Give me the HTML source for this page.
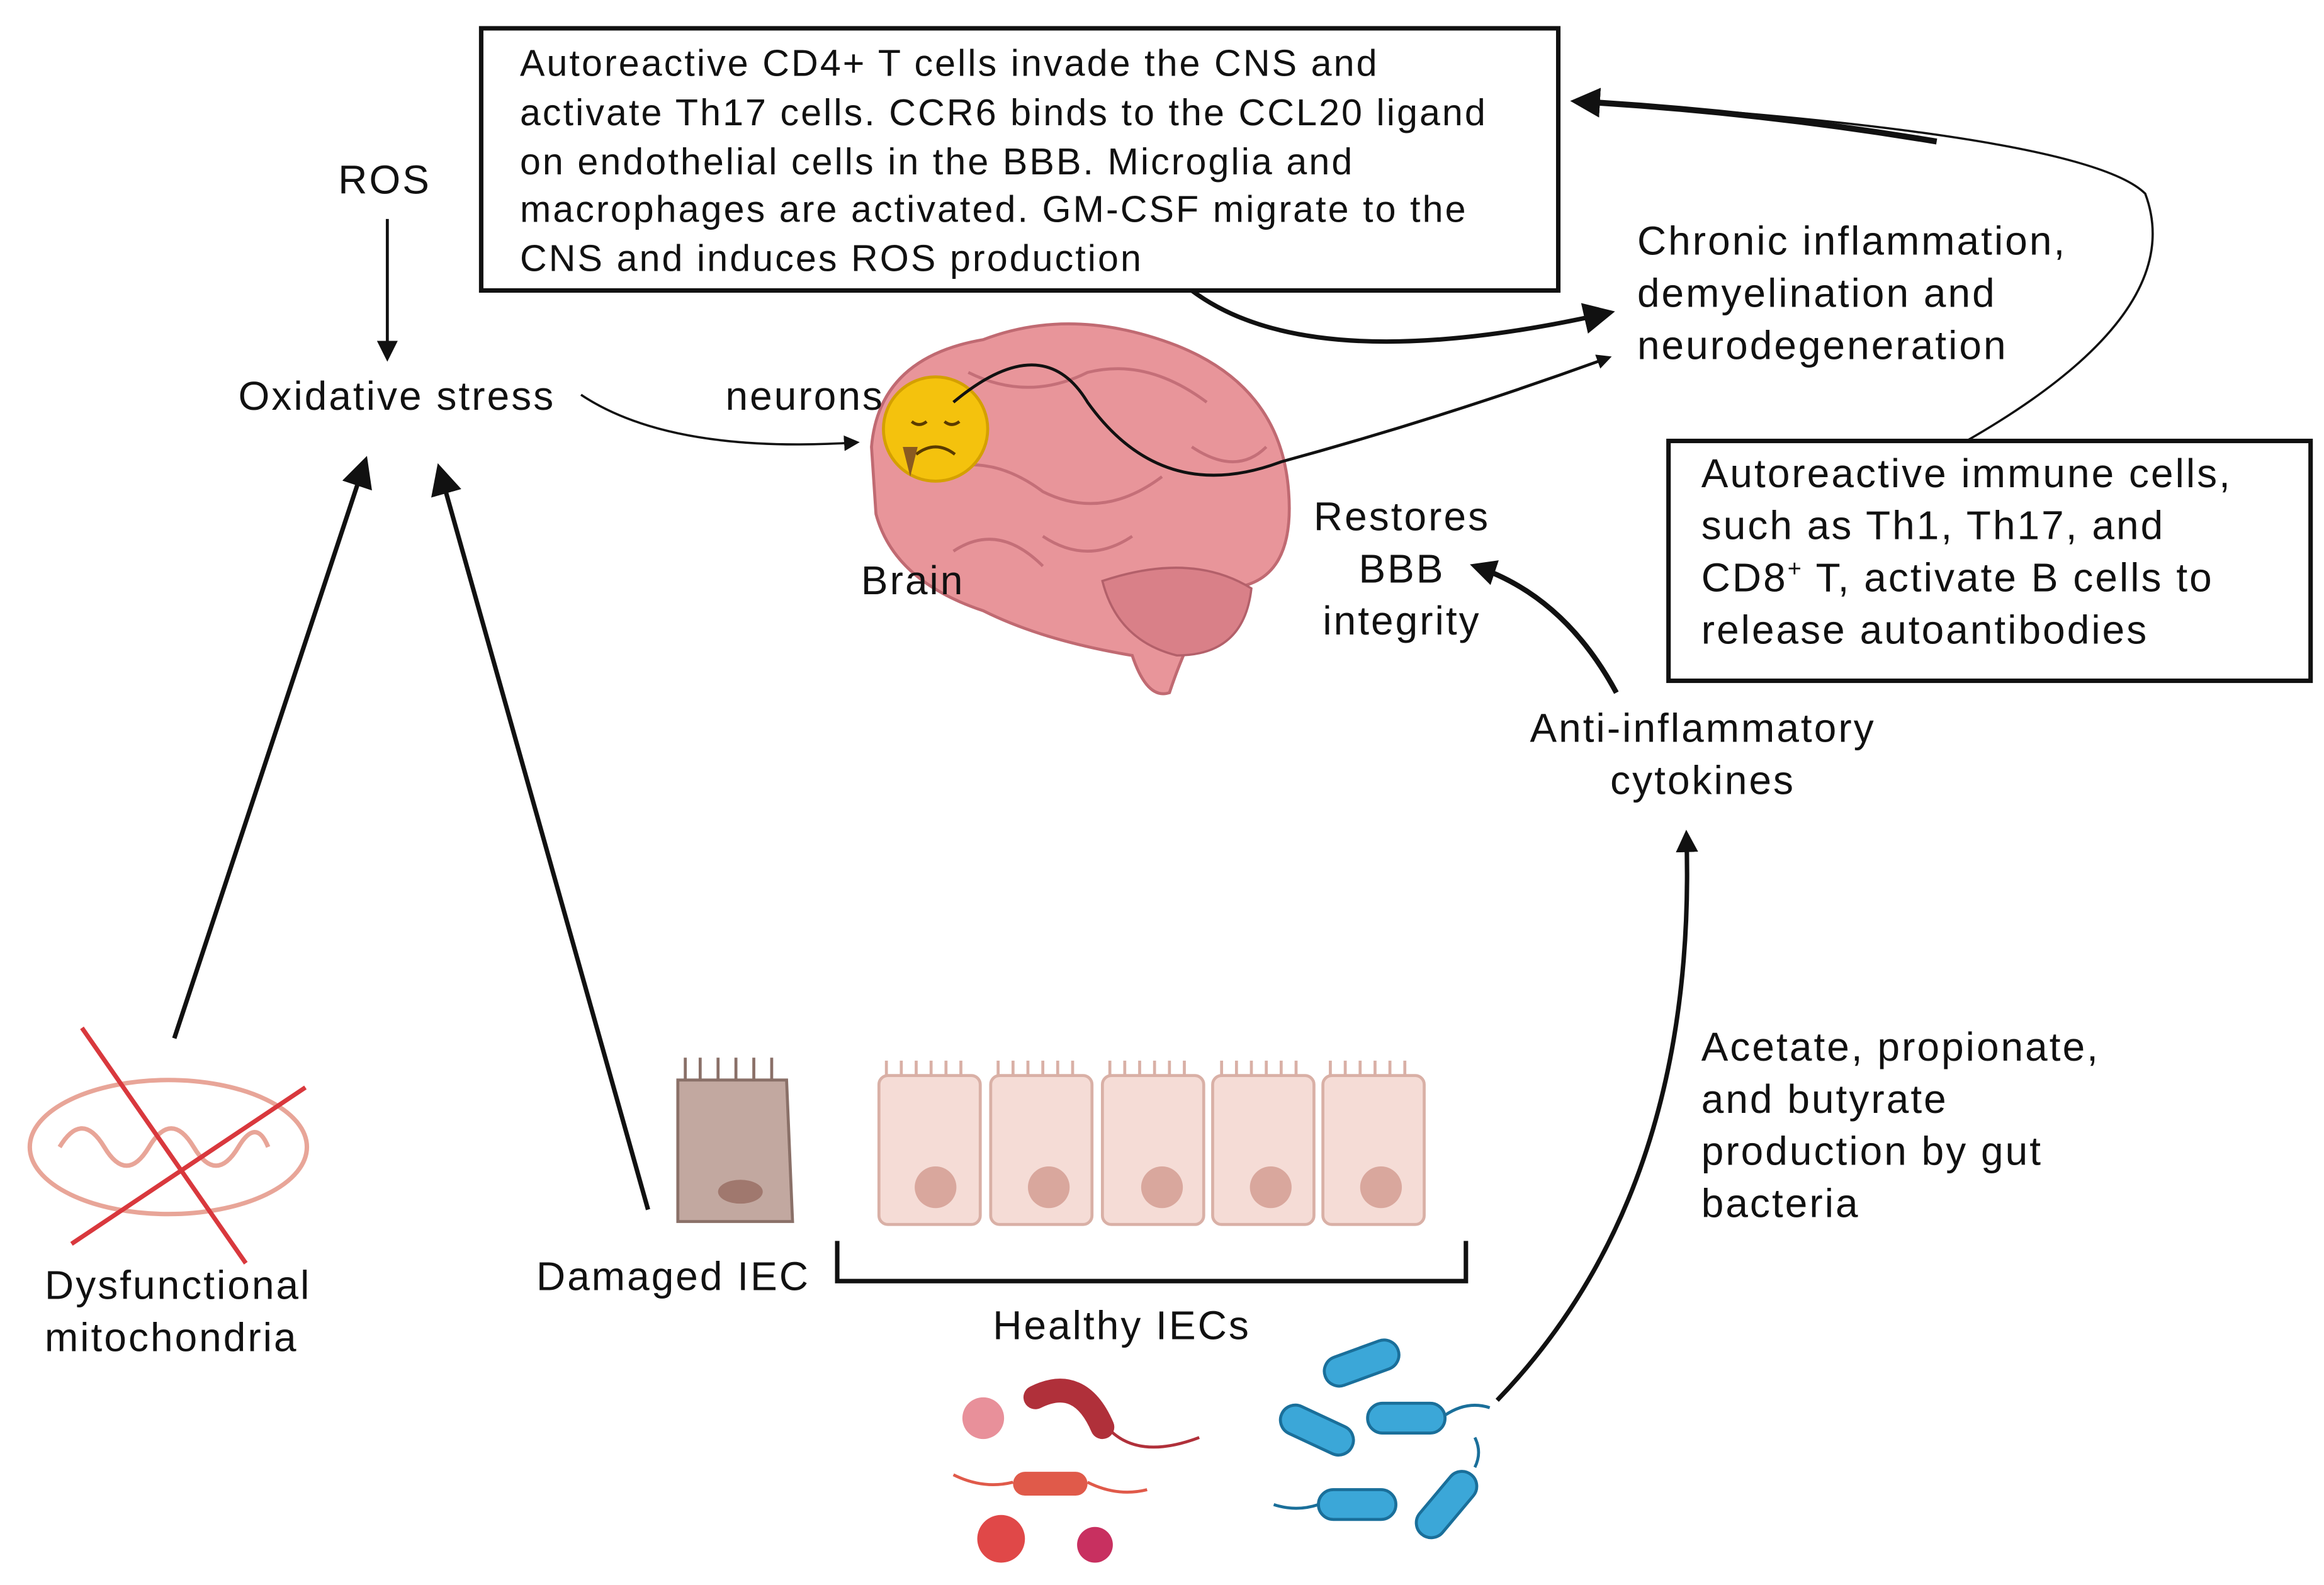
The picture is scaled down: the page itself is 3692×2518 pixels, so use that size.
<!DOCTYPE html>
<html><head><meta charset="utf-8"><style>
html,body{margin:0;padding:0;background:#fff;}
svg{display:block;}
text{font-family:"Liberation Sans",sans-serif;fill:#111;letter-spacing:1.3px;}
</style></head><body>
<svg width="3692" height="2518" viewBox="0 0 1560 1064" preserveAspectRatio="none" xmlns="http://www.w3.org/2000/svg">
<defs>
<marker id="a" viewBox="0 0 10 10" refX="8" refY="5" markerWidth="7" markerHeight="7" orient="auto-start-reverse"><path d="M0,0 L10,5 L0,10 z" fill="#111"/></marker>
<marker id="b" viewBox="0 0 10 10" refX="8" refY="5" markerWidth="5" markerHeight="5" orient="auto"><path d="M0,0 L10,5 L0,10 z" fill="#111"/></marker>
</defs>
<rect width="1560" height="1064" fill="#fff"/>

<!-- brain -->
<g>
<path d="M585,300 Q590,240 660,228 Q720,205 790,232 Q860,260 865,330 Q870,395 820,395 Q800,420 785,465 Q770,470 760,440 Q700,430 660,410 Q600,390 588,345 Z" fill="#e8959a" stroke="#c06a72" stroke-width="2"/>
<path d="M740,390 Q800,370 840,395 Q835,440 790,440 Q750,430 740,390Z" fill="#d98088" stroke="#b3606a" stroke-width="1.5"/>
<g fill="none" stroke="#c46f78" stroke-width="2">
<path d="M620,320 Q660,300 700,330 Q740,350 780,320"/>
<path d="M650,250 Q690,270 730,250 Q770,240 810,270"/>
<path d="M700,360 Q730,380 760,360"/>
<path d="M800,300 Q830,320 850,300"/>
<path d="M640,370 Q670,350 700,380"/>
</g>
</g>
<circle cx="628" cy="288" r="35" fill="#f4c20d" stroke="#d4a000" stroke-width="2"/>
<path d="M612,283 q5,4 10,0 M634,283 q5,4 10,0 M615,305 q13,-10 26,0" stroke="#5a3b00" stroke-width="2" fill="none"/>
<path d="M606,300 l5,20 l5,-20z" fill="#8a5a20"/>

<!-- top box -->
<rect x="323" y="19" width="723" height="176" fill="#fff" stroke="#111" stroke-width="3"/>
<g font-size="25" style="letter-spacing:1.6px">
<text x="349" y="51">Autoreactive CD4+ T cells invade the CNS and</text>
<text x="349" y="84">activate Th17 cells. CCR6 binds to the CCL20 ligand</text>
<text x="349" y="117">on endothelial cells in the BBB. Microglia and</text>
<text x="349" y="149">macrophages are activated. GM-CSF migrate to the</text>
<text x="349" y="182">CNS and induces ROS production</text>
</g>
<!-- right box -->
<rect x="1120" y="296" width="431" height="161" fill="#fff" stroke="#111" stroke-width="3"/>
<g font-size="27">
<text x="1142" y="327">Autoreactive immune cells,</text>
<text x="1142" y="362">such as Th1, Th17, and</text>
<text x="1142" y="397">CD8<tspan font-size="16" dy="-10">+</tspan><tspan dy="10"> T, activate B cells to</tspan></text>
<text x="1142" y="432">release autoantibodies</text>
</g>

<g font-size="27">
<text x="227" y="130">ROS</text>
<text x="160" y="275">Oxidative stress</text>
<text x="487" y="275">neurons</text>
<text x="578" y="399">Brain</text>
<text x="1099" y="171">Chronic inflammation,</text>
<text x="1099" y="206">demyelination and</text>
<text x="1099" y="241">neurodegeneration</text>
<text x="941" y="356" text-anchor="middle">Restores</text>
<text x="941" y="391" text-anchor="middle">BBB</text>
<text x="941" y="426" text-anchor="middle">integrity</text>
<text x="1143" y="498" text-anchor="middle">Anti-inflammatory</text>
<text x="1143" y="533" text-anchor="middle">cytokines</text>
<text x="1142" y="712">Acetate, propionate,</text>
<text x="1142" y="747">and butyrate</text>
<text x="1142" y="782">production by gut</text>
<text x="1142" y="817">bacteria</text>
<text x="30" y="872">Dysfunctional</text>
<text x="30" y="907">mitochondria</text>
<text x="360" y="866">Damaged IEC</text>
<text x="753" y="899" text-anchor="middle">Healthy IECs</text>
</g>

<!-- arrows -->
<g fill="none" stroke="#111">
<line x1="260" y1="147" x2="260" y2="240" stroke-width="2" marker-end="url(#a)"/>
<line x1="117" y1="697" x2="245" y2="310" stroke-width="3" marker-end="url(#a)"/>
<line x1="435" y1="812" x2="295" y2="315" stroke-width="3" marker-end="url(#a)"/>
<path d="M390,265 Q450,305 575,297" stroke-width="1.5" marker-end="url(#a)"/>
<path d="M800,195 Q880,255 1080,210" stroke-width="3" marker-end="url(#a)"/>
<path d="M640,270 Q700,220 730,270 Q780,340 860,310 Q970,280 1080,240" stroke-width="2" marker-end="url(#b)"/>
<path d="M1320,296 Q1470,210 1440,130 Q1400,90 1065,68" stroke-width="1.5"/>
<path d="M1300,95 Q1180,75 1058,68" stroke-width="4" marker-end="url(#b)"/>
<path d="M1085,465 Q1050,400 990,380" stroke-width="3.5" marker-end="url(#b)"/>
<path d="M1005,940 Q1140,800 1132,560" stroke-width="3" marker-end="url(#b)"/>
<path d="M562,833 V860 H984 V833" stroke-width="3"/>
</g>

<!-- mitochondria -->
<ellipse cx="113" cy="770" rx="93" ry="45" fill="#fff" stroke="#e8a598" stroke-width="3"/>
<path d="M40,770 q15,-25 30,0 q15,25 30,0 q15,-25 30,0 q15,25 30,0 q12,-20 20,0" fill="none" stroke="#e8a598" stroke-width="3"/>
<line x1="55" y1="690" x2="165" y2="848" stroke="#d9383d" stroke-width="3"/>
<line x1="48" y1="835" x2="205" y2="730" stroke="#d9383d" stroke-width="3"/>

<!-- damaged IEC -->
<path d="M455,725 L528,725 L532,820 L455,820 Z" fill="#c2a8a0" stroke="#8a7068" stroke-width="2"/>
<path d="M460,725 v-15 M470,725 v-15 M482,725 v-15 M494,725 v-15 M506,725 v-15 M518,725 v-15" stroke="#8a7068" stroke-width="2"/>
<ellipse cx="497" cy="800" rx="15" ry="8" fill="#a0786e"/>
<!-- healthy IECs -->
<g fill="#f5dcd6" stroke="#d9b0a6" stroke-width="2">
<rect x="590" y="722" width="68" height="100" rx="6"/>
<rect x="665" y="722" width="68" height="100" rx="6"/>
<rect x="740" y="722" width="68" height="100" rx="6"/>
<rect x="814" y="722" width="68" height="100" rx="6"/>
<rect x="888" y="722" width="68" height="100" rx="6"/>
</g>
<g fill="#d9a79d">
<circle cx="628" cy="797" r="14"/><circle cx="704" cy="797" r="14"/><circle cx="780" cy="797" r="14"/><circle cx="853" cy="797" r="14"/><circle cx="927" cy="797" r="14"/>
</g>
<path d="M595,722 v-10 M605,722 v-10 M615,722 v-10 M625,722 v-10 M635,722 v-10 M645,722 v-10 M670,722 v-10 M680,722 v-10 M690,722 v-10 M700,722 v-10 M710,722 v-10 M720,722 v-10 M745,722 v-10 M755,722 v-10 M765,722 v-10 M775,722 v-10 M785,722 v-10 M795,722 v-10 M820,722 v-10 M830,722 v-10 M840,722 v-10 M850,722 v-10 M860,722 v-10 M870,722 v-10 M893,722 v-10 M903,722 v-10 M913,722 v-10 M923,722 v-10 M933,722 v-10 M943,722 v-10" stroke="#d9b0a6" stroke-width="2"/>

<!-- bacteria -->
<circle cx="660" cy="952" r="14" fill="#e8909a"/>
<path d="M695,938 q30,-15 45,20" stroke="#b0303a" stroke-width="16" fill="none" stroke-linecap="round"/>
<path d="M745,960 q20,20 60,5" stroke="#b0303a" stroke-width="2" fill="none"/>
<rect x="680" y="988" width="50" height="16" rx="8" fill="#e05a4a"/>
<path d="M640,990 q20,10 40,5 M730,995 q20,10 40,5" stroke="#e05a4a" stroke-width="2" fill="none"/>
<circle cx="672" cy="1033" r="16" fill="#e04848"/>
<circle cx="735" cy="1037" r="12" fill="#c83060"/>
<g fill="#3ba7d8" stroke="#1a6f9a" stroke-width="2">
<rect x="888" y="905" width="52" height="20" rx="10" transform="rotate(-20 914 915)"/>
<rect x="858" y="950" width="52" height="20" rx="10" transform="rotate(25 884 960)"/>
<rect x="918" y="942" width="52" height="20" rx="10"/>
<rect x="885" y="1000" width="52" height="20" rx="10"/>
<rect x="945" y="1000" width="52" height="20" rx="10" transform="rotate(-50 971 1010)"/>
</g>
<path d="M970,950 q15,-10 30,-5 M855,1010 q15,5 30,0 M990,985 q5,-10 0,-20" stroke="#1a6f9a" stroke-width="2" fill="none"/>
</svg>
</body></html>
